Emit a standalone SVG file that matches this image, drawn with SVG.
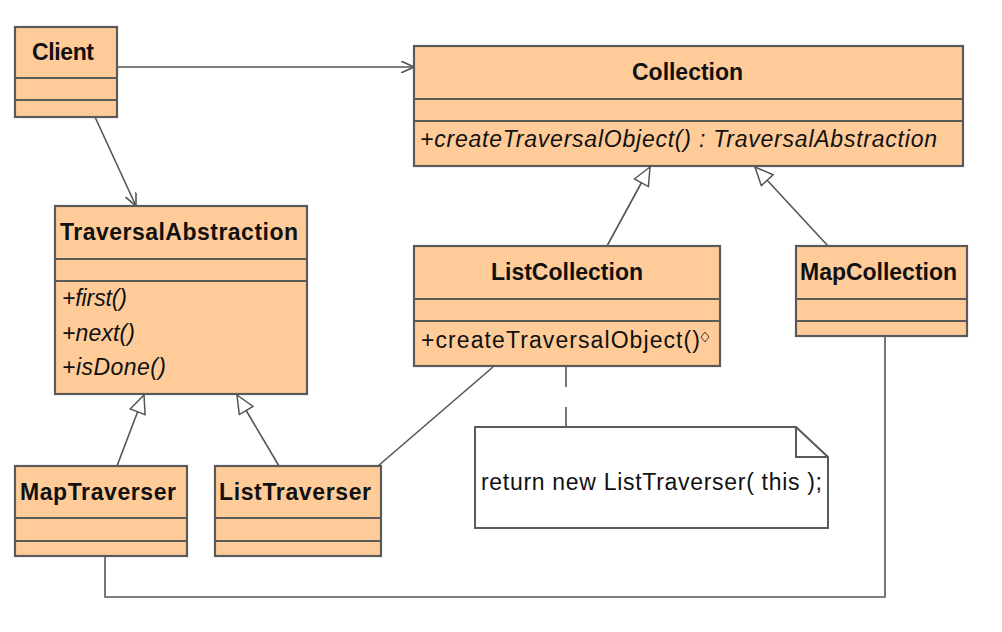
<svg xmlns="http://www.w3.org/2000/svg" width="1002" height="632" viewBox="0 0 1002 632">
<style>
.box{fill:#FFCC99;stroke:#5a5a5a;stroke-width:2.2}
.sep{stroke:#5a5a5a;stroke-width:2.2}
.t{font-family:"Liberation Sans",Arial,sans-serif;font-size:23px;font-weight:bold;fill:#111}
.m{font-family:"Liberation Sans",Arial,sans-serif;font-size:23px;fill:#111}
.i{font-style:italic}
.c{fill:none;stroke:#555;stroke-width:1.6}
.note{fill:#fff;stroke:#5a5a5a;stroke-width:2}
</style>
<defs>
<marker id="open" viewBox="0 0 14 12" refX="13" refY="6" markerWidth="14" markerHeight="12" markerUnits="userSpaceOnUse" orient="auto">
<path d="M0,0 L13,6 L0,12" fill="none" stroke="#555" stroke-width="1.6"/>
</marker>
<marker id="gen" viewBox="0 0 20 18" refX="19" refY="9" markerWidth="20" markerHeight="18" markerUnits="userSpaceOnUse" orient="auto">
<path d="M1,1 L19,9 L1,17 Z" fill="#fff" stroke="#555" stroke-width="1.5"/>
</marker>
</defs>
<rect width="1002" height="632" fill="#fff"/>
<g id="connectors">
<line class="c" x1="117" y1="67" x2="414" y2="67" marker-end="url(#open)"/>
<line class="c" x1="95" y1="117" x2="136" y2="206" marker-end="url(#open)"/>
<line class="c" x1="607" y1="246" x2="650" y2="167" marker-end="url(#gen)"/>
<line class="c" x1="828" y1="246" x2="755" y2="167" marker-end="url(#gen)"/>
<line class="c" x1="117" y1="466" x2="144" y2="395" marker-end="url(#gen)"/>
<line class="c" x1="279" y1="466" x2="237" y2="395" marker-end="url(#gen)"/>
<line class="c" x1="493" y1="367" x2="378" y2="466"/>
<line class="c" x1="566" y1="367" x2="566" y2="427" stroke-dasharray="20,20"/>
<polyline class="c" points="885,337 885,597 105,597 105,557" stroke-width="2"/>
</g>
<g id="Client">
<rect class="box" x="15" y="27" width="102" height="90"/>
<line class="sep" x1="15" y1="78" x2="117" y2="78"/>
<line class="sep" x1="15" y1="100" x2="117" y2="100"/>
<text class="t" x="32" y="60" textLength="62">Client</text>
</g>
<g id="Collection">
<rect class="box" x="414" y="46" width="549" height="120"/>
<line class="sep" x1="414" y1="99" x2="963" y2="99"/>
<line class="sep" x1="414" y1="121" x2="963" y2="121"/>
<text class="t" x="632" y="80" textLength="111">Collection</text>
<text class="m i" x="420" y="147" textLength="517">+createTraversalObject() : TraversalAbstraction</text>
</g>
<g id="TraversalAbstraction">
<rect class="box" x="55" y="206" width="252" height="188"/>
<line class="sep" x1="55" y1="259" x2="307" y2="259"/>
<line class="sep" x1="55" y1="281" x2="307" y2="281"/>
<text class="t" x="60" y="240" textLength="238">TraversalAbstraction</text>
<text class="m i" x="62" y="306" textLength="65">+first()</text>
<text class="m i" x="62" y="341" textLength="73">+next()</text>
<text class="m i" x="62" y="375" textLength="104">+isDone()</text>
</g>
<g id="ListCollection">
<rect class="box" x="414" y="246" width="306" height="120"/>
<line class="sep" x1="414" y1="299" x2="720" y2="299"/>
<line class="sep" x1="414" y1="321" x2="720" y2="321"/>
<text class="t" x="491" y="280" textLength="152">ListCollection</text>
<text class="m" x="421" y="348" textLength="279">+createTraversalObject()</text>
<path d="M705,332 L709,337 L705,342 L701,337 Z" fill="none" stroke="#444" stroke-width="1"/>
</g>
<g id="MapCollection">
<rect class="box" x="796" y="246" width="171" height="90"/>
<line class="sep" x1="796" y1="299" x2="967" y2="299"/>
<line class="sep" x1="796" y1="321" x2="967" y2="321"/>
<text class="t" x="800" y="280" textLength="157">MapCollection</text>
</g>
<g id="MapTraverser">
<rect class="box" x="15" y="466" width="172" height="90"/>
<line class="sep" x1="15" y1="518" x2="187" y2="518"/>
<line class="sep" x1="15" y1="541" x2="187" y2="541"/>
<text class="t" x="20" y="500" textLength="156">MapTraverser</text>
</g>
<g id="ListTraverser">
<rect class="box" x="215" y="466" width="166" height="90"/>
<line class="sep" x1="215" y1="518" x2="381" y2="518"/>
<line class="sep" x1="215" y1="541" x2="381" y2="541"/>
<text class="t" x="219" y="500" textLength="152">ListTraverser</text>
</g>
<g id="Note">
<path class="note" d="M475,427 L796,427 L828,457 L828,528 L475,528 Z"/>
<path d="M796,427 L796,457 L828,457" fill="none" stroke="#5a5a5a" stroke-width="2"/>
<text class="m" x="481" y="490" textLength="341">return new ListTraverser( this );</text>
</g>
</svg>
